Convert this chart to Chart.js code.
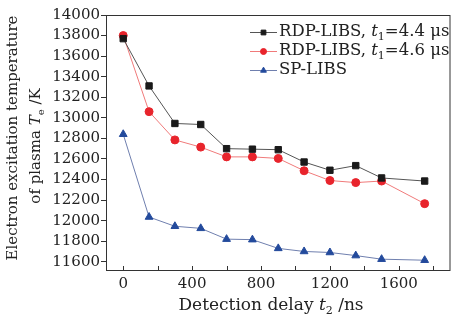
<!DOCTYPE html>
<html>
<head>
<meta charset="utf-8">
<script src="https://cdn.jsdelivr.net/npm/chart.js@4.4.1/dist/chart.umd.min.js"></script>
<style>
  html, body { margin: 0; padding: 0; background: #fff; }
  #wrap { width: 456px; height: 320px; }
</style>
</head>
<body>
<div id="wrap"><canvas id="temp"></canvas></div>
<script>
const FONT = '"DejaVu Serif", serif'

// detection delay t2 (ns)
const delays = [0, 150, 300, 450, 600, 750, 900, 1050, 1200, 1350, 1500, 1750]
// electron temperature (K)
const rdp44 = [13770, 13310, 12945, 12935, 12700, 12695, 12690, 12570, 12490, 12535, 12415, 12385]
const rdp46 = [13800, 13060, 12785, 12715, 12620, 12620, 12605, 12485, 12390, 12370, 12385, 12165]
const sp = [12840, 12035, 11945, 11925, 11820, 11815, 11730, 11700, 11690, 11660, 11625, 11615]

// axis ticks
const xTicks = [0, 200, 400, 600, 800, 1000, 1200, 1400, 1600, 1800]
const xLabelled = [0, 400, 800, 1200, 1600]
const yTicks = [11600, 11800, 12000, 12200, 12400, 12600, 12800, 13000, 13200, 13400, 13600, 13800, 14000]

const legendText = [
    [{t: 'RDP-LIBS, '}, {t: 't', i: true}, {t: '1', sub: true}, {t: '=4.4 μs'}],
    [{t: 'RDP-LIBS, '}, {t: 't', i: true}, {t: '1', sub: true}, {t: '=4.6 μs'}],
    [{t: 'SP-LIBS'}]
]

const toXY = (ys) => ys.map((v, i) => ({x: delays[i], y: v}))

const setFont = (ctx, p, size) => {
    ctx.font = (p.i ? 'italic ' : '') + (p.sub ? Math.round(size * 0.65) : size) + 'px ' + FONT
}

// draw text made of plain / italic / subscript pieces
const drawRich = (ctx, parts, x, y, align, size) => {
    let w = 0
    parts.forEach(p => { setFont(ctx, p, size); w += ctx.measureText(p.t).width })
    let cx = align === 'center' ? x - w / 2 : x
    ctx.textAlign = 'left'
    ctx.textBaseline = 'middle'
    parts.forEach(p => {
        setFont(ctx, p, size)
        ctx.fillText(p.t, cx, p.sub ? y + size * 0.33 : y)
        cx += ctx.measureText(p.t).width
    })
}

const decorations = {
    id: 'decorations',
    afterDraw(chart) {
        const ctx = chart.ctx
        const a = chart.chartArea
        const xs = chart.scales.x
        ctx.save()
        ctx.strokeStyle = '#333'
        ctx.lineWidth = 1
        ctx.strokeRect(a.left + 0.5, a.top + 0.5, a.right - a.left - 1, a.bottom - a.top - 1)
        // inward x ticks
        ctx.beginPath()
        xs.ticks.forEach(t => {
            const px = Math.round(xs.getPixelForValue(t.value)) + 0.5
            ctx.moveTo(px, a.bottom)
            ctx.lineTo(px, a.bottom - 5)
        })
        ctx.stroke()

        ctx.fillStyle = '#222'
        // x title
        drawRich(ctx, [{t: 'Detection delay '}, {t: 't', i: true}, {t: '2', sub: true}, {t: ' /ns'}], 271, 306, 'center', 17)
        // y title
        ctx.translate(13, 138)
        ctx.rotate(-Math.PI / 2)
        drawRich(ctx, [{t: 'Electron excitation temperature'}], 0, 0, 'center', 15)
        ctx.setTransform(1, 0, 0, 1, 0, 0)
        ctx.translate(36, 146)
        ctx.rotate(-Math.PI / 2)
        drawRich(ctx, [{t: 'of plasma '}, {t: 'T', i: true}, {t: 'e', sub: true}, {t: ' /K'}], 0, 0, 'center', 15)
        ctx.setTransform(1, 0, 0, 1, 0, 0)

        // legend
        chart.data.datasets.forEach((ds, i) => {
            const y = 32 + i * 19
            ctx.strokeStyle = ds.borderColor
            ctx.lineWidth = 1
            ctx.beginPath()
            ctx.moveTo(250, y + 0.5)
            ctx.lineTo(277, y + 0.5)
            ctx.stroke()
            ctx.fillStyle = ds.pointBackgroundColor
            ctx.strokeStyle = ds.pointBorderColor
            Chart.helpers.drawPoint(ctx, {
                pointStyle: ds.pointStyle,
                radius: ds.pointRadius * 0.75,
                borderWidth: 1
            }, 263.5, y + 0.5)
            ctx.fillStyle = '#222'
            drawRich(ctx, legendText[i], 279, y, 'left', 16.5)
        })
        ctx.restore()
    }
}

const render = () => {
    new Chart(document.getElementById('temp'), {
        type: 'line',
        data: {
            datasets: [{
                label: 'RDP-LIBS, t1=4.4 μs',
                data: toXY(rdp44),
                borderColor: '#555',
                borderWidth: 1,
                pointStyle: 'rect',
                pointRadius: 4.5,
                pointBackgroundColor: '#1a1a1a',
                pointBorderColor: '#1a1a1a'
            }, {
                label: 'RDP-LIBS, t1=4.6 μs',
                data: toXY(rdp46),
                borderColor: '#f07a7a',
                borderWidth: 1,
                pointStyle: 'circle',
                pointRadius: 4,
                pointBackgroundColor: '#e8242c',
                pointBorderColor: '#e8242c'
            }, {
                label: 'SP-LIBS',
                data: toXY(sp),
                borderColor: '#6f7fae',
                borderWidth: 1,
                pointStyle: 'triangle',
                pointRadius: 4.5,
                pointBackgroundColor: '#234a9c',
                pointBorderColor: '#234a9c'
            }]
        },
        options: {
            responsive: true,
            maintainAspectRatio: false,
            animation: false,
            layout: { padding: { left: 0, right: 3, top: 15, bottom: 0 } },
            plugins: { legend: { display: false }, tooltip: { enabled: false } },
            scales: {
                x: {
                    type: 'linear',
                    min: -100,
                    max: 1900,
                    afterBuildTicks: (s) => { s.ticks = xTicks.map(v => ({value: v})) },
                    afterFit: (s) => { s.height = 49 },
                    grid: { display: true, drawOnChartArea: false, drawTicks: false },
                    border: { display: false },
                    ticks: {
                        autoSkip: false,
                        maxRotation: 0,
                        padding: 4,
                        color: '#222',
                        font: { family: FONT, size: 15 },
                        callback: (v) => xLabelled.includes(v) ? String(v) : ''
                    }
                },
                y: {
                    min: 11510,
                    max: 14000,
                    afterBuildTicks: (s) => { s.ticks = yTicks.map(v => ({value: v})) },
                    afterFit: (s) => { s.width = 106 },
                    grid: { drawOnChartArea: false, tickLength: 5, color: '#333' },
                    border: { display: false },
                    ticks: {
                        autoSkip: false,
                        padding: 1,
                        color: '#222',
                        font: { family: FONT, size: 15 },
                        callback: (v) => String(v)
                    }
                }
            }
        },
        plugins: [decorations]
    })
}

document.addEventListener('DOMContentLoaded', render)
</script>
</body>
</html>
